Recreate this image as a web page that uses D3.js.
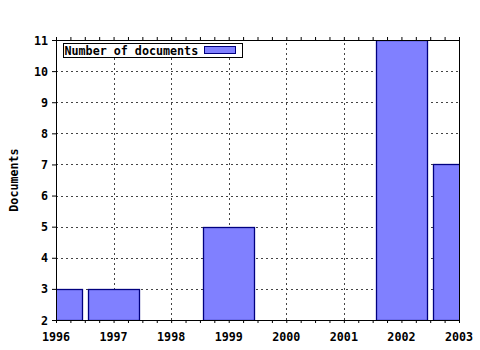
<!DOCTYPE html>
<html>
<head>
<meta charset="utf-8">
<script src="https://cdn.jsdelivr.net/npm/d3@7"></script>
<style>
body{margin:0;background:#fff;}
text{font-family:"DejaVu Sans Mono",monospace;font-weight:bold;font-size:11.7px;fill:#000;}
.grid line{stroke:#444;stroke-dasharray:2,3;shape-rendering:crispEdges;}
</style>
</head>
<body>
<svg id="chart" width="480" height="350"></svg>
<script>
let years=[1996,1997,1998,1999,2000,2001,2002,2003];
let barYears=[1996,1997,1999,2002,2003];
let docCounts=[3,3,5,11,7];
let yTicks=[2,3,4,5,6,7,8,9,10,11];
let seriesName="Number of documents";

const margin={left:56,right:21,top:40,bottom:30};
const W=480,H=350;
const svg=d3.select("#chart");

let x=d3.scaleLinear().domain([1996,2003]).range([margin.left,W-margin.right]);
let y=d3.scaleLinear().domain([2,11]).range([H-margin.bottom,margin.top]);

svg.append("clipPath").attr("id","clip")
  .append("rect")
  .attr("x",margin.left).attr("y",margin.top)
  .attr("width",W-margin.right-margin.left).attr("height",H-margin.bottom-margin.top);

// grid
let grid=svg.append("g").attr("class","grid");
grid.selectAll("line.v").data(years.slice(1,-1)).enter().append("line")
  .attr("x1",(d)=>Math.round(x(d))+0.5).attr("x2",(d)=>Math.round(x(d))+0.5)
  .attr("y1",y(2)).attr("y2",y(11));
grid.selectAll("line.h").data(yTicks.slice(1,-1)).enter().append("line")
  .attr("y1",(d)=>Math.round(y(d))+0.5).attr("y2",(d)=>Math.round(y(d))+0.5)
  .attr("x1",x(1996)).attr("x2",x(2003));

// bars
let bw=0.89;
svg.append("g").attr("clip-path","url(#clip)")
  .selectAll("rect").data(barYears).enter().append("rect")
  .attr("x",(d)=>Math.round(x(d-bw/2))+0.5)
  .attr("width",(d)=>Math.round(x(d+bw/2))-Math.round(x(d-bw/2)))
  .attr("y",(d,i)=>Math.round(y(docCounts[i]))+0.5)
  .attr("height",(d,i)=>Math.round(y(2))-Math.round(y(docCounts[i])))
  .attr("fill","#8080ff")
  .attr("stroke","#00007f")
  .attr("stroke-width",1.3);

// axes
let minor=d3.range(1996,2003.001,0.25);
let xb=d3.axisBottom(x).tickValues(minor).tickSize(3).tickFormat("");
svg.append("g").attr("transform",`translate(0,${y(2)})`).call(xb)
  .call((g)=>g.select(".domain").remove());
let xt=d3.axisTop(x).tickValues(minor).tickSize(3).tickFormat("");
svg.append("g").attr("transform",`translate(0,${y(11)})`).call(xt)
  .call((g)=>g.select(".domain").remove());

svg.selectAll(".tick line").attr("stroke","#000");

let yl=d3.axisLeft(y).tickValues(yTicks).tickSize(4).tickFormat(d3.format("d"));
svg.append("g").attr("transform",`translate(${x(1996)},0)`).call(yl)
  .call((g)=>g.select(".domain").remove())
  .call((g)=>g.selectAll("text").attr("x",-8).attr("dy","0.35em").style("font-size","11.7px").style("font-family","DejaVu Sans Mono").attr("fill","#000"));

svg.append("g").attr("class","xlab").selectAll("text").data(years).enter().append("text")
  .attr("x",(d)=>x(d)).attr("y",341)
  .attr("text-anchor","middle").text((d)=>d);

// border
svg.append("rect")
  .attr("x",margin.left+0.5).attr("y",margin.top+0.5)
  .attr("width",W-margin.right-margin.left).attr("height",H-margin.bottom-margin.top)
  .attr("fill","none").attr("stroke","#000");

// y label
svg.append("text")
  .attr("transform",`translate(18,${(y(2)+y(11))/2}) rotate(-90)`)
  .attr("text-anchor","middle").text("Documents");

// legend
let lg=svg.append("g");
lg.append("rect").attr("x",63.5).attr("y",43.5).attr("width",179).attr("height",14)
  .attr("fill","#fff").attr("stroke","#000");
lg.append("text").attr("x",64.5).attr("y",54.5).text(seriesName);
lg.append("rect").attr("x",204.5).attr("y",46.5).attr("width",31).attr("height",7)
  .attr("fill","#8080ff").attr("stroke","#00007f");
</script>
</body>
</html>
